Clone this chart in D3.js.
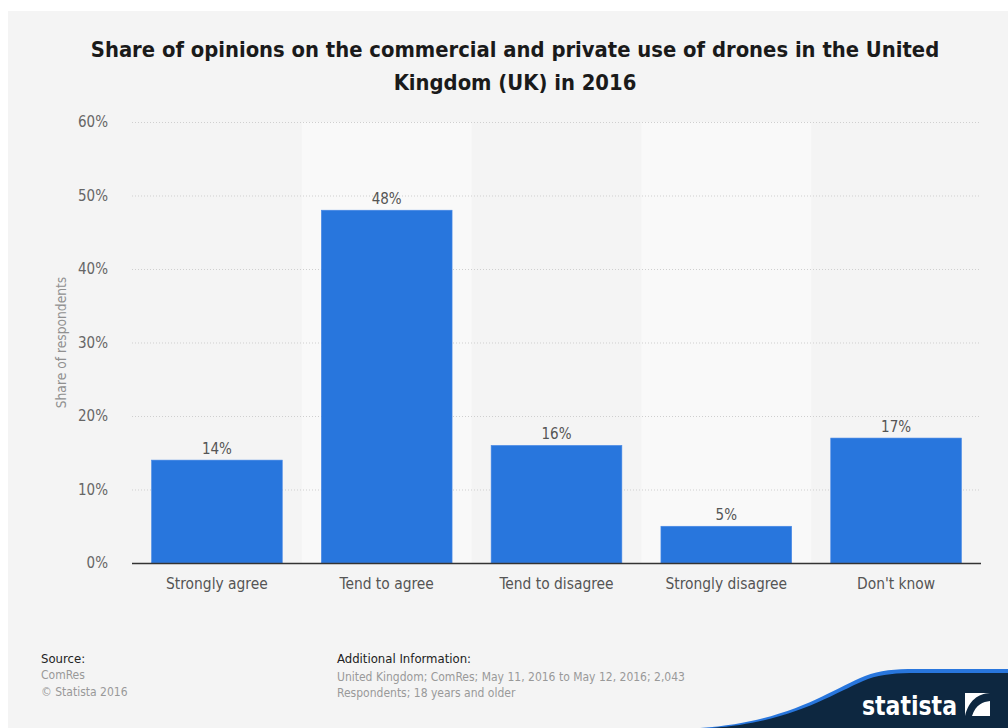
<!DOCTYPE html>
<html><head><meta charset="utf-8">
<script src="https://cdn.jsdelivr.net/npm/d3@7"></script>
<style>
body{margin:0;background:#fff;}
svg text{font-family:"DejaVu Sans Condensed","DejaVu Sans",sans-serif;font-stretch:condensed;}
</style></head>
<body><svg id="c" width="1008" height="728"></svg>
<script>
const categories = ["Strongly agree","Tend to agree","Tend to disagree","Strongly disagree","Don't know"];
const values = [14,48,16,5,17];
const yTicks = [0,10,20,30,40,50,60];
const titleLines = ["Share of opinions on the commercial and private use of drones in the United","Kingdom (UK) in 2016"];
const yAxisTitle = "Share of respondents";
const sourceLines = ["ComRes","© Statista 2016"];
const infoLines = ["United Kingdom; ComRes; May 11, 2016 to May 12, 2016; 2,043","Respondents; 18 years and older"];

const svg = d3.select("#c");
svg.append("rect").attr("x",8).attr("y",11).attr("width",1000).attr("height",717).attr("fill","#f4f4f4");

const m = {l:132,r:981,t:122,b:563};
const x = d3.scaleBand().domain(categories).range([m.l,m.r]).paddingInner(0).paddingOuter(0);
const y = d3.scaleLinear().domain([0,60]).range([m.b,m.t]);

svg.append("g").selectAll("rect").data(categories).join("rect")
  .attr("x",d=>x(d)).attr("y",m.t).attr("width",x.bandwidth()).attr("height",m.b-m.t)
  .attr("fill",(d,i)=> i%2===1 ? "#f9f9f9" : "none");

svg.append("g").selectAll("line").data(yTicks.filter(t=>t>0)).join("line")
  .attr("x1",m.l).attr("x2",m.r).attr("y1",d=>y(d)+0.5).attr("y2",d=>y(d)+0.5)
  .attr("stroke","#cfcfcf").attr("stroke-width",1).attr("stroke-dasharray","1,2");

svg.append("g").selectAll("text").data(yTicks).join("text")
  .attr("x",108).attr("y",d=>y(d)+5).attr("text-anchor","end")
  .attr("font-size",15).attr("fill","#666")
  .text(d=>d+"%");

svg.append("text").attr("transform",`translate(66,${(m.t+m.b)/2}) rotate(-90)`)
  .attr("text-anchor","middle").attr("font-size",13.7).attr("fill","#909090")
  .text(yAxisTitle);

const bw = x.bandwidth()*0.77;
const off = (x.bandwidth()-bw)/2;
svg.append("g").selectAll("rect").data(values).join("rect")
  .attr("x",(d,i)=>x(categories[i])+off).attr("y",d=>y(d))
  .attr("width",bw).attr("height",d=>y(0)-y(d))
  .attr("fill","#2876dd").attr("stroke","#4a8ae6").attr("stroke-width",0.6);

svg.append("g").selectAll("text").data(values).join("text")
  .attr("x",(d,i)=>x(categories[i])+x.bandwidth()/2).attr("y",d=>y(d)-6)
  .attr("text-anchor","middle").attr("font-size",15).attr("fill","#555")
  .text(d=>d+"%");

svg.append("line").attr("x1",m.l).attr("x2",m.r).attr("y1",m.b+0.5).attr("y2",m.b+0.5)
  .attr("stroke","#333").attr("stroke-width",1.5);

svg.append("g").selectAll("text").data(categories).join("text")
  .attr("x",d=>x(d)+x.bandwidth()/2).attr("y",589)
  .attr("text-anchor","middle").attr("font-size",15.4).attr("fill","#555")
  .text(d=>d);

svg.append("g").selectAll("text").data(titleLines).join("text")
  .attr("x",515).attr("y",(d,i)=>57+i*33).attr("text-anchor","middle")
  .attr("font-size",21.8).attr("font-weight","bold").attr("fill","#1a1a1a")
  .text(d=>d);

svg.append("text").attr("x",41).attr("y",663).attr("font-size",13).attr("fill","#222")
  .text("Source:");
svg.append("g").selectAll("text").data(sourceLines).join("text")
  .attr("x",41).attr("y",(d,i)=>679+i*17).attr("font-size",12).attr("fill","#999")
  .text(d=>d);
svg.append("text").attr("x",337).attr("y",663).attr("font-size",13).attr("fill","#222")
  .text("Additional Information:");
svg.append("g").selectAll("text").data(infoLines).join("text")
  .attr("x",337).attr("y",(d,i)=>681+i*16).attr("font-size",12).attr("fill","#999")
  .text(d=>d);

svg.append("path").attr("d","M700,728 C790,722 830,690 865,676 C880,670 895,669 915,669 L1008,669 L1008,728 Z")
  .attr("fill","#2876dd");
svg.append("path").attr("d","M712,728 C795,722 835,692 868,679 C882,674 897,673 917,673 L1008,673 L1008,728 Z")
  .attr("fill","#0d2740");
svg.append("text").attr("x",862).attr("y",715).attr("font-size",27).attr("font-weight","bold")
  .attr("fill","#fff").attr("textLength",95).attr("lengthAdjust","spacingAndGlyphs").text("statista");
svg.append("rect").attr("x",965).attr("y",693).attr("width",25).attr("height",23).attr("fill","#fff");
svg.append("path").attr("d","M965,716 L972,716 C976,704 983,702 990,701 L990,693 C978,694 969,700 965,716 Z").attr("fill","#0d2740");
</script></body></html>
